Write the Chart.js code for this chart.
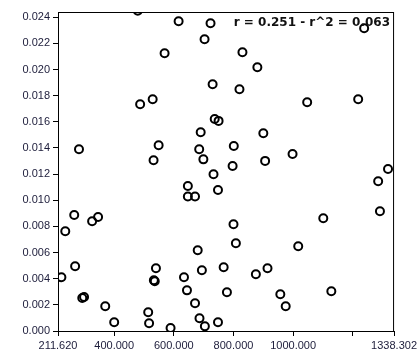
<!DOCTYPE html>
<html>
<head>
<meta charset="utf-8">
<script src="https://cdn.jsdelivr.net/npm/chart.js@4/dist/chart.umd.min.js"></script>
<style>
  html, body { margin: 0; padding: 0; background: #fff; }
  #wrap { width: 420px; height: 360px; }
</style>
</head>
<body>
<div id="wrap"><canvas id="scatter"></canvas></div>
<script>
const xValues = [
  479, 616, 723, 703, 569, 830, 880, 1238, 730, 820,
  487, 529, 1047, 1218, 737, 750, 690, 900, 282, 549,
  685, 801, 998, 532, 699, 797, 906, 733, 1318, 1285,
  647, 647, 671, 748, 266, 236, 326, 346, 1291, 1101,
  800, 808, 680, 1017, 269, 223, 694, 540, 533, 536,
  634, 767, 875, 914, 644, 293, 299, 370, 671, 778,
  957, 975, 1128, 400, 514, 517, 589, 686, 704, 748
];
const yValues = [
  0.0245, 0.02369, 0.02354, 0.02232, 0.02124, 0.02132, 0.02017, 0.02316, 0.01887, 0.01849,
  0.01734, 0.01773, 0.01750, 0.01773, 0.01622, 0.01607, 0.01520, 0.01512, 0.01390, 0.01421,
  0.01390, 0.01415, 0.01354, 0.01306, 0.01313, 0.01262, 0.01301, 0.01199, 0.01239, 0.01145,
  0.01109, 0.01029, 0.01029, 0.01079, 0.00887, 0.00763, 0.00839, 0.00872, 0.00916, 0.00862,
  0.00816, 0.00671, 0.00617, 0.00648, 0.00495, 0.00411, 0.00464, 0.00480, 0.00388, 0.00380,
  0.00411, 0.00487, 0.00434, 0.00480, 0.00311, 0.00252, 0.00260, 0.00189, 0.00212, 0.00296,
  0.00281, 0.00189, 0.00304, 0.00067, 0.00143, 0.00059, 0.00023, 0.00097, 0.00036, 0.00067
];
const xTicks = [211.62, 400, 600, 800, 1000, 1200, 1338.302];
const yTicks = [0, 0.002, 0.004, 0.006, 0.008, 0.010, 0.012, 0.014, 0.016, 0.018, 0.020, 0.022, 0.024];
const statText = "r = 0.251 - r^2 = 0.063";

const points = xValues.map((x, i) => ({ x, y: yValues[i] }));
const axisFont = { family: "Liberation Sans", size: 11 };
const textColor = "#1c1c3a";

const frame = {
  id: "frame",
  afterDraw(chart) {
    const { ctx, chartArea: a } = chart;
    ctx.save();
    ctx.strokeStyle = "#000";
    ctx.lineWidth = 1;
    ctx.strokeRect(a.left + 0.5, a.top + 0.5, a.right - a.left - 1, a.bottom - a.top);
    ctx.font = "bold 12px 'DejaVu Sans'";
    ctx.fillStyle = "#111";
    ctx.textAlign = "right";
    ctx.textBaseline = "middle";
    ctx.fillText(statText, a.right - 4, a.top + 11);
    ctx.restore();
  }
};

new Chart(document.getElementById("scatter"), {
  type: "scatter",
  data: {
    datasets: [{
      data: points,
      pointRadius: 4,
      pointHoverRadius: 4,
      pointBorderWidth: 2,
      borderColor: "#000",
      backgroundColor: "rgba(0,0,0,0)"
    }]
  },
  options: {
    responsive: true,
    maintainAspectRatio: false,
    animation: false,
    layout: { padding: { left: 0, top: 12, right: 0, bottom: 0 } },
    plugins: { legend: { display: false }, tooltip: { enabled: false } },
    scales: {
      x: {
        type: "linear",
        min: 211.62,
        max: 1338.302,
        afterBuildTicks: s => { s.ticks = xTicks.map(v => ({ value: v })); },
        afterFit: s => { s.height = 29; },
        grid: { drawOnChartArea: false, drawTicks: true, tickLength: 5, color: "#000" },
        border: { display: true, color: "#000", width: 1 },
        ticks: {
          font: axisFont, color: textColor, padding: 3, maxRotation: 0, autoSkip: false,
          callback: v => v === 1200 ? "" : v.toFixed(3)
        }
      },
      y: {
        type: "linear",
        min: 0,
        max: 0.0244,
        afterBuildTicks: s => { s.ticks = yTicks.map(v => ({ value: v })); },
        afterFit: s => { s.width = 58; },
        grid: { drawOnChartArea: false, drawTicks: true, tickLength: 5, color: "#000" },
        border: { display: true, color: "#000", width: 1 },
        ticks: {
          font: axisFont, color: textColor, padding: 3, autoSkip: false,
          callback: v => v.toFixed(3)
        }
      }
    }
  },
  plugins: [frame]
});
</script>
</body>
</html>
